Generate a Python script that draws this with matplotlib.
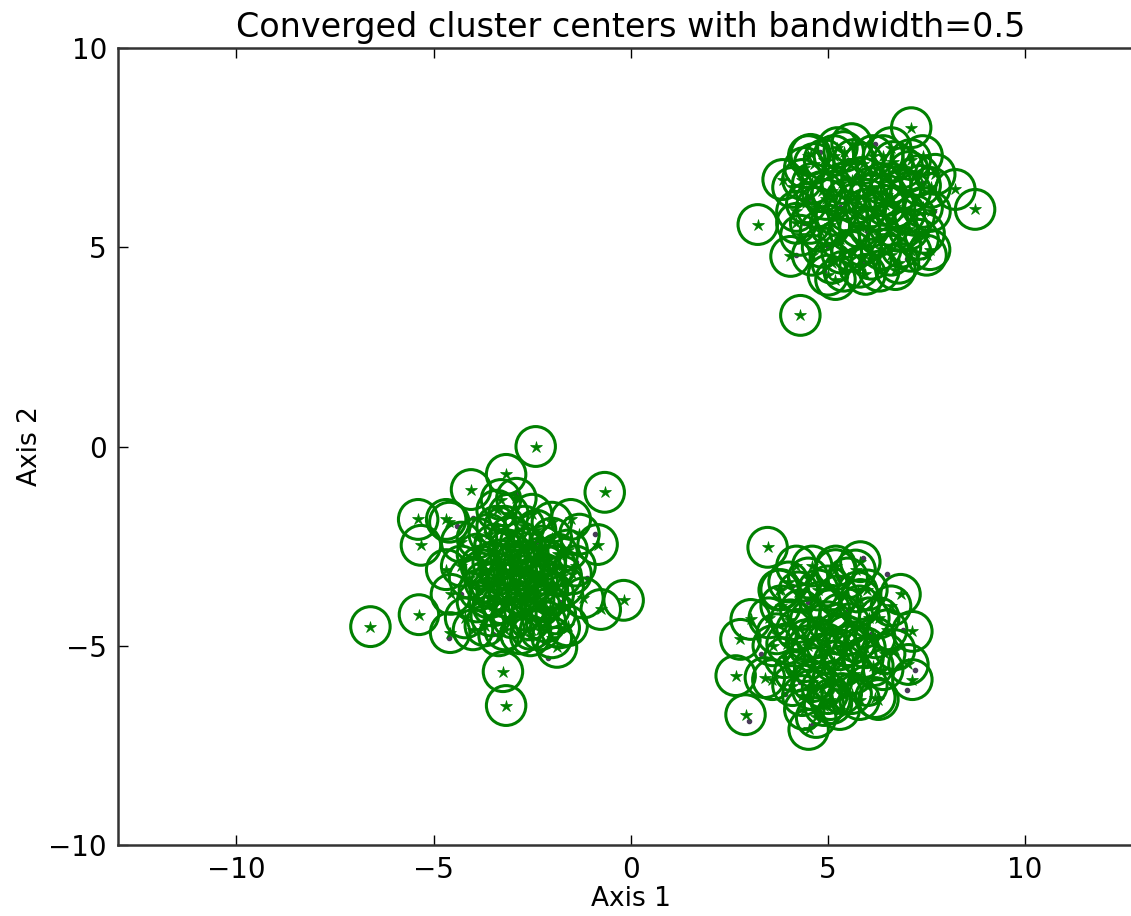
import numpy as np
import matplotlib
matplotlib.use('Agg')
import matplotlib.pyplot as plt

bandwidth = 0.5

# converged cluster centers
centers_x = [
    # lower-left blob
    -6.6, -5.37, -5.39, -5.32, -4.58, -4.05, -3.24, -3.16, -2.41, -0.66,
    -0.18, -0.76, -1.87, -0.84, -1.52, -4.68, -3.16, -3.29, -2.53, -4.56,
    -4.68, -2.15,
    -3.6, -3.2, -2.8, -2.4, -2.0, -1.6, -3.9, -3.5, -3.1, -2.7, -2.3, -1.9,
    -1.5, -4.1, -3.7, -3.3, -2.9, -2.5, -2.1, -1.7, -3.9, -3.5, -3.1, -2.7,
    -2.3, -1.9, -3.7, -3.2, -2.8, -2.3, -2.0, -3.4, -2.9, -2.5, -4.3, -4.6,
    -1.3, -1.2, -4.2, -3.0, -2.6, -3.4, -2.2, -3.8,
    -3.45, -3.05, -2.65, -2.25, -1.85, -3.75, -3.35, -2.95, -2.55, -2.15,
    -1.75, -3.55, -3.15, -2.75, -2.35, -1.95, -3.85, -3.25, -2.85, -2.45,
    -2.05, -3.55, -3.0, -2.55, -2.15, -3.4, -2.7, -3.9, -1.6, -4.0,
    -3.1, -2.0, -1.4, -4.3, -3.6, -2.9, -2.2, -3.35, -2.55, -1.8,
    # lower-right blob
    3.47, 2.66, 2.91, 3.04, 2.78, 3.59, 4.51, 6.28, 7.14, 7.14,
    6.84, 5.82, 5.19, 3.80, 7.04, 5.82, 5.06,
    4.0, 4.5, 5.0, 5.5, 6.0, 3.8, 4.3, 4.8, 5.3, 5.8, 6.3, 3.7, 4.2, 4.7,
    5.2, 5.7, 6.2, 3.9, 4.4, 4.9, 5.4, 5.9, 6.4, 4.1, 4.6, 5.1, 5.6, 6.0,
    4.4, 4.9, 5.3, 3.5, 3.4, 6.6, 6.7, 5.0, 4.5, 5.5, 5.2, 4.2,
    4.25, 4.75, 5.25, 5.75, 4.05, 4.55, 5.05, 5.55, 6.05, 3.95,
    4.45, 4.95, 5.45, 5.95, 4.15, 4.65, 5.15, 5.65, 6.15, 4.35,
    4.85, 5.35, 5.8, 4.7, 5.1, 3.6, 6.5, 6.45, 4.6, 5.7,
    3.75, 6.2, 5.3, 4.6, 5.0,
    # upper-right blob
    7.11, 3.22, 4.30, 4.05, 8.73, 8.23, 7.72, 5.19, 3.85, 4.56,
    5.24, 7.59, 6.71, 5.95,
    4.4, 4.9, 5.4, 5.9, 6.4, 6.9, 7.3, 4.1, 4.6, 5.1, 5.6, 6.1, 6.6, 7.1,
    7.6, 4.2, 4.7, 5.2, 5.7, 6.2, 6.7, 7.2, 7.6, 4.3, 4.8, 5.3, 5.8, 6.3,
    6.8, 7.3, 4.6, 5.1, 5.6, 6.1, 6.6, 7.1, 5.4, 6.3, 7.4, 5.6, 6.0, 5.5,
    6.5,
    4.65, 5.15, 5.65, 6.15, 6.65, 7.05, 4.35, 4.85, 5.35, 5.85,
    6.35, 6.85, 7.35, 4.45, 4.95, 5.45, 5.95, 6.45, 6.95, 7.4,
    4.55, 5.05, 5.55, 6.05, 6.55, 7.05, 7.45, 4.85, 5.35, 5.85,
    6.35, 6.85, 5.8, 6.8, 4.5, 6.6, 7.1, 5.0, 7.5, 4.2,
]
centers_y = [
    -4.52, -4.22, -1.83, -2.48, -4.67, -1.08, -5.65, -6.50, 0.0, -1.15,
    -3.86, -4.09, -5.04, -2.46, -1.83, -1.83, -0.70, -1.33, -4.59, -3.71,
    -3.09, -2.84,
    -2.2, -2.0, -2.4, -2.1, -2.3, -2.6, -2.7, -2.9, -2.6, -2.9, -2.8, -3.0,
    -3.2, -3.3, -3.4, -3.2, -3.4, -3.3, -3.6, -3.5, -3.9, -4.0, -3.8, -4.1,
    -4.0, -4.2, -4.5, -4.6, -4.7, -4.6, -4.8, -1.6, -1.3, -1.7, -2.4, -1.9,
    -2.2, -3.8, -4.3, -3.0, -3.6, -3.6, -3.2, -3.0,
    -2.45, -2.25, -2.55, -2.5, -2.7, -3.1, -2.85, -2.75, -3.05, -3.0,
    -3.25, -3.45, -3.45, -3.25, -3.45, -3.7, -3.6, -3.95, -3.7, -3.85,
    -4.05, -4.25, -4.3, -4.35, -4.4, -2.0, -2.0, -2.3, -4.5, -4.6,
    -1.7, -1.9, -3.0, -3.0, -3.8, -3.1, -3.9, -4.75, -4.75, -4.55,
    -2.53, -5.75, -6.73, -4.34, -4.84, -5.85, -7.10, -6.35, -5.85, -4.64,
    -3.71, -2.89, -3.09, -3.59, -5.47, -3.84, -6.35,
    -3.4, -3.3, -3.5, -3.3, -3.6, -4.0, -4.1, -3.9, -4.2, -4.0, -4.3, -4.7,
    -4.6, -4.8, -4.7, -4.9, -4.8, -5.3, -5.4, -5.2, -5.5, -5.3, -5.6, -6.0,
    -6.1, -5.9, -6.2, -6.0, -6.6, -6.5, -6.6, -4.3, -5.8, -4.0, -5.1, -4.4,
    -5.0, -5.0, -3.0, -3.0,
    -3.65, -3.6, -3.75, -3.65, -4.35, -4.35, -4.1, -4.45, -4.3, -4.95,
    -4.85, -4.95, -4.75, -5.05, -5.65, -5.55, -5.4, -5.7, -5.5, -6.25,
    -6.05, -6.2, -6.35, -6.8, -6.45, -5.0, -4.6, -5.2, -3.0, -3.1,
    -3.6, -6.3, -5.1, -5.9, -6.2,
    8.0, 5.57, 3.29, 4.77, 5.95, 6.45, 6.83, 4.19, 6.70, 7.33,
    7.5, 4.94, 4.44, 4.32,
    7.0, 7.2, 7.4, 7.1, 7.3, 7.0, 6.8, 6.5, 6.6, 6.4, 6.7, 6.5, 6.6, 6.4,
    6.5, 5.9, 6.0, 5.8, 6.1, 5.9, 6.0, 5.8, 5.9, 5.3, 5.4, 5.2, 5.5, 5.3,
    5.4, 5.2, 4.8, 4.6, 4.9, 4.7, 4.8, 4.9, 4.4, 4.4, 7.3, 7.6, 6.2, 5.9,
    6.3,
    7.1, 7.3, 7.2, 7.3, 7.15, 6.9, 6.7, 6.4, 6.6, 6.75,
    6.6, 6.45, 6.55, 6.1, 6.2, 6.2, 5.95, 6.05, 5.85, 6.0,
    5.6, 5.55, 5.4, 5.5, 5.55, 5.45, 5.35, 5.0, 4.85, 5.05,
    4.95, 5.0, 4.5, 4.6, 7.3, 7.5, 7.2, 4.3, 4.8, 5.6,
]

# original samples (dark dots)
points_x = [
    -4.6, -4.4, -3.9, -3.3, -2.9, -2.2, -1.8, -1.4, -3.6, -2.6, -2.0, -1.1,
    -4.3, -3.0, -2.4, -1.7, -3.5, -2.1, -0.9, -4.0,
    3.0, 3.6, 4.1, 4.6, 5.3, 5.9, 6.5, 6.9, 7.2, 7.0, 6.3, 5.6, 4.8, 4.3,
    3.9, 5.0, 5.5, 6.1, 4.5, 3.3,
    4.2, 4.8, 5.5, 6.2, 6.9, 7.4, 7.7, 5.0, 5.9, 6.5, 4.5, 7.0, 6.0, 5.3,
    4.4, 6.8, 7.3, 5.7, 6.4, 4.9,
]
points_y = [
    -4.8, -2.0, -3.5, -4.1, -1.2, -4.9, -3.9, -2.9, -2.6, -3.1, -1.9, -3.3,
    -3.7, -4.4, -2.4, -4.4, -4.7, -5.3, -2.2, -1.8,
    -6.9, -4.5, -3.5, -7.0, -3.3, -2.8, -3.2, -4.6, -5.6, -6.1, -6.3, -5.7,
    -4.3, -5.9, -6.2, -5.0, -4.1, -4.7, -3.9, -5.2,
    4.8, 7.4, 7.2, 7.6, 7.1, 6.6, 5.9, 5.0, 4.6, 6.3, 6.2, 4.7, 5.4, 6.0,
    5.6, 5.2, 6.9, 6.8, 4.9, 4.4,
]

fig = plt.figure(figsize=(11.31, 9.16), dpi=100)
ax = fig.add_axes([118 / 1131, 1 - 845 / 916, (1143.5 - 118) / 1131, 797 / 916])

green = (0, 0.5, 0)

ax.plot(points_x, points_y, '.', color='#4a3a5a', markersize=6, zorder=1)
for cx, cy in zip(centers_x, centers_y):
    ax.add_patch(plt.Circle((cx, cy), bandwidth, fill=False, edgecolor=green,
                            linewidth=2.2, zorder=2))
ax.plot(centers_x, centers_y, '*', color=green, markersize=9,
        markeredgewidth=0.5, zorder=3)

ax.set_xlim(-13, 13)
ax.set_ylim(-10, 10)
ax.set_xticks([-10, -5, 0, 5, 10])
ax.set_yticks([-10, -5, 0, 5, 10])
ax.set_xticklabels(['\u221210', '\u22125', '0', '5', '10'])
ax.set_yticklabels(['\u221210', '\u22125', '0', '5', '10'])
ax.tick_params(direction='in', top=True, right=True, length=7, width=1,
               labelsize=20, pad=8)
for s in ax.spines.values():
    s.set_linewidth(1.8)
    s.set_color('#333333')

ax.set_title('Converged cluster centers with bandwidth=0.5', fontsize=24, pad=8)
ax.set_xlabel('Axis 1', fontsize=19, labelpad=1)
ax.set_ylabel('Axis 2', fontsize=19, labelpad=4)

fig.savefig('out.png', dpi=100)
